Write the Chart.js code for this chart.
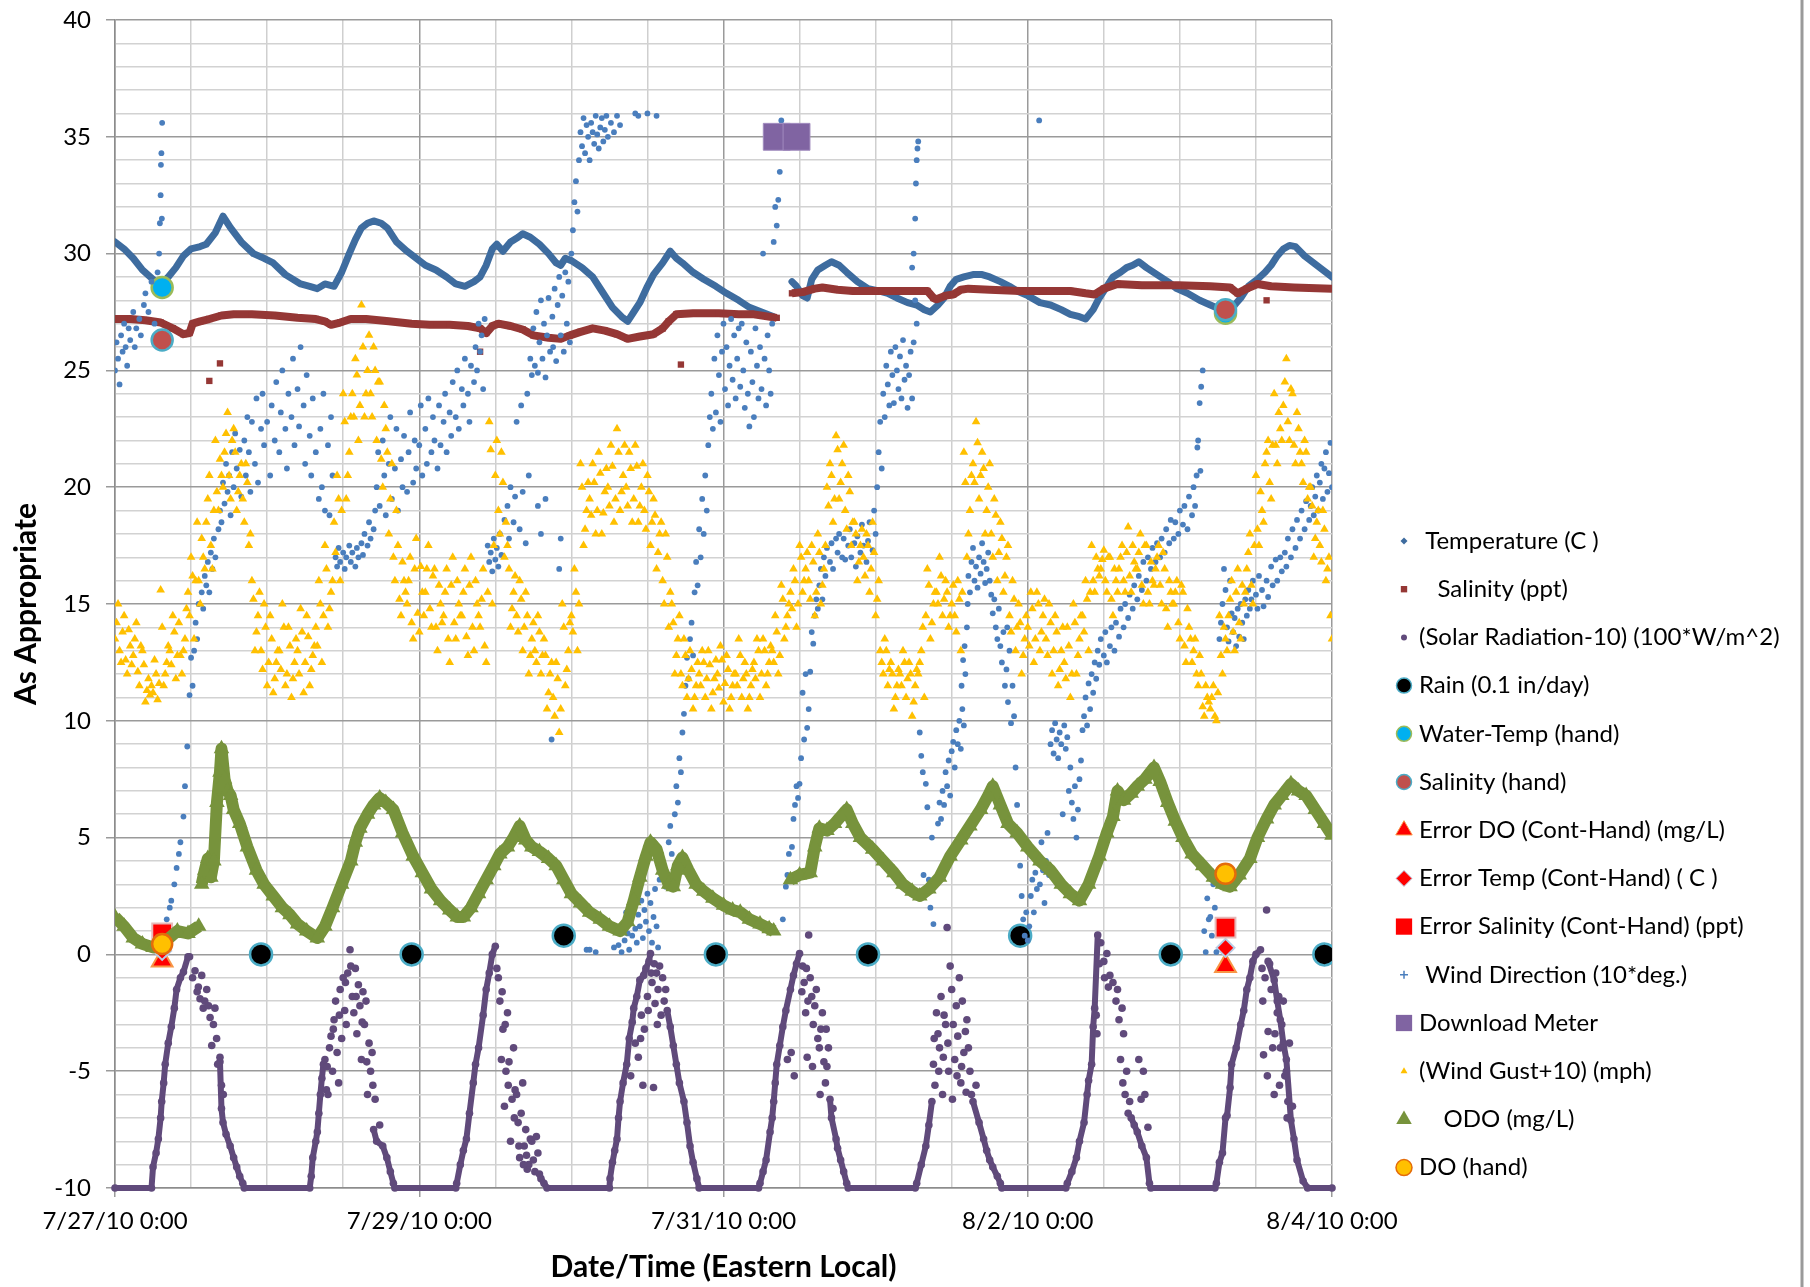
<!DOCTYPE html>
<html>
<head>
<meta charset="utf-8">
<script src="https://cdn.jsdelivr.net/npm/chart.js@4.4.1/dist/chart.umd.min.js"></script>
<style>
  html, body { margin: 0; padding: 0; background: #fff; }
  #wrap { width: 1810px; height: 1287px; }
</style>
</head>
<body>
<div id="wrap"><canvas id="chart" width="1810" height="1287"></canvas></div>
<script>
// x values are days since 7/27/10 0:00
const xTickLabels = ["7/27/10 0:00", "7/29/10 0:00", "7/31/10 0:00", "8/2/10 0:00", "8/4/10 0:00"];

const temperature = [
  [0.00,30.5],[0.06,30.2],[0.12,29.8],[0.18,29.3],[0.25,28.9],[0.29,28.6],[0.35,29.0],[0.40,29.4],[0.45,29.9],[0.50,30.2],
  [0.56,30.3],[0.60,30.4],[0.66,30.9],[0.71,31.6],[0.76,31.1],[0.83,30.5],[0.91,30.0],[0.98,29.8],[1.04,29.6],[1.12,29.1],
  [1.22,28.7],[1.28,28.6],[1.33,28.5],[1.38,28.7],[1.44,28.6],[1.49,29.2],[1.54,30.0],[1.58,30.6],[1.62,31.1],[1.66,31.3],
  [1.70,31.4],[1.75,31.3],[1.79,31.1],[1.85,30.5],[1.92,30.1],[1.98,29.8],[2.04,29.5],[2.11,29.3],[2.18,29.0],[2.24,28.7],
  [2.30,28.6],[2.36,28.8],[2.40,29.0],[2.44,29.5],[2.48,30.2],[2.51,30.4],[2.55,30.1],[2.60,30.5],[2.65,30.7],[2.68,30.85],
  [2.73,30.7],[2.79,30.4],[2.85,30.0],[2.90,29.6],[2.93,29.5],[2.96,29.8],[3.00,29.7],[3.07,29.4],[3.14,29.0],[3.20,28.4],
  [3.27,27.7],[3.33,27.3],[3.37,27.1],[3.41,27.5],[3.45,27.9],[3.50,28.6],[3.54,29.1],[3.60,29.6],[3.65,30.1],[3.69,29.8],
  [3.73,29.6],[3.80,29.2],[3.87,28.9],[3.95,28.6],[4.02,28.3],[4.10,28.0],[4.17,27.7],[4.25,27.5],[4.33,27.3],
  [4.40,null],
  [4.45,28.8],[4.48,28.6],[4.52,28.2],[4.55,28.1],[4.58,28.9],[4.62,29.3],[4.67,29.5],[4.71,29.65],[4.76,29.5],[4.81,29.2],
  [4.88,28.8],[4.95,28.5],[5.02,28.4],[5.08,28.3],[5.14,28.1],[5.21,27.9],[5.27,27.8],[5.32,27.6],[5.36,27.5],[5.41,27.8],
  [5.45,28.1],[5.49,28.6],[5.53,28.9],[5.58,29.0],[5.64,29.1],[5.70,29.1],[5.75,29.0],[5.82,28.8],[5.88,28.6],[5.93,28.4],
  [6.00,28.2],[6.08,27.9],[6.15,27.8],[6.22,27.6],[6.28,27.4],[6.34,27.3],[6.38,27.2],[6.43,27.6],[6.47,28.1],[6.52,28.6],
  [6.56,29.0],[6.61,29.2],[6.65,29.4],[6.69,29.5],[6.73,29.65],[6.78,29.4],[6.85,29.1],[6.92,28.8],[6.98,28.5],[7.05,28.3],
  [7.13,28.0],[7.20,27.8],[7.27,27.6],[7.32,27.4],[7.36,27.8],[7.40,28.1],[7.45,28.6],[7.51,28.9],[7.56,29.2],[7.60,29.5],
  [7.64,29.9],[7.68,30.2],[7.72,30.35],[7.76,30.3],[7.82,29.9],[7.88,29.6],[7.94,29.3],[8.00,29.0]
];

const salinity = [
  [0.00,27.2],[0.10,27.2],[0.20,27.15],[0.30,27.05],[0.38,26.8],[0.45,26.55],[0.49,26.6],[0.51,27.0],[0.56,27.1],[0.62,27.2],
  [0.70,27.35],[0.78,27.4],[0.90,27.4],[1.05,27.35],[1.20,27.25],[1.32,27.2],[1.38,27.1],[1.42,26.95],[1.48,27.05],[1.55,27.2],
  [1.65,27.2],[1.80,27.1],[1.95,27.0],[2.07,26.95],[2.20,26.95],[2.32,26.9],[2.40,26.8],[2.44,26.6],[2.48,26.9],[2.52,27.0],
  [2.60,26.9],[2.68,26.75],[2.75,26.5],[2.85,26.4],[2.93,26.35],[2.99,26.5],[3.06,26.65],[3.14,26.8],[3.22,26.7],[3.30,26.55],
  [3.37,26.35],[3.45,26.45],[3.54,26.55],[3.60,26.8],[3.64,27.1],[3.69,27.4],[3.80,27.45],[3.97,27.45],[4.10,27.4],[4.20,27.4],
  [4.35,27.25],
  [4.40,null],
  [4.45,28.3],[4.52,28.35],[4.60,28.5],[4.65,28.55],[4.75,28.45],[4.85,28.4],[5.00,28.4],[5.15,28.4],[5.34,28.4],[5.38,28.1],
  [5.40,28.05],[5.46,28.2],[5.51,28.25],[5.56,28.45],[5.61,28.5],[5.75,28.45],[5.95,28.4],[6.10,28.4],[6.28,28.4],[6.38,28.3],
  [6.44,28.25],[6.50,28.5],[6.59,28.7],[6.75,28.65],[6.99,28.65],[7.20,28.6],[7.33,28.55],[7.38,28.3],[7.44,28.5],[7.51,28.7],
  [7.60,28.6],[7.75,28.55],[8.00,28.5]
];
const salinityStray = [[0.62,24.55],[0.69,25.3],[2.40,25.8],[3.72,25.25],[7.57,28.0]];

// night floor plus rising / falling flanks of each day (joined)
const solarEdges = [
  [0.00,-10],[0.24,-10],[0.25,-9.1],[0.27,-8.5],[0.285,-7.9],[0.30,-7.0],[0.307,-6.3],[0.32,-5.5],[0.33,-4.7],[0.35,-3.8],
  [0.37,-3.1],[0.39,-2.3],[0.405,-1.5],[0.43,-1.0],[0.45,-0.75],[0.48,-0.1],[0.485,null],
  [0.69,-4.6],[0.70,-6.6],[0.71,-7.2],[0.73,-7.7],[0.757,-8.2],[0.78,-8.7],[0.80,-9.1],[0.82,-9.5],[0.84,-9.8],[0.85,-10],
  [1.28,-10],[1.29,-9.5],[1.30,-8.7],[1.32,-8.0],[1.33,-7.6],[1.34,-6.8],[1.35,-6.0],[1.36,-5.3],[1.37,-4.7],[1.375,null],
  [1.70,-7.5],[1.72,-8.0],[1.76,-8.2],[1.787,-8.7],[1.81,-9.3],[1.83,-9.8],[1.84,-10],
  [2.24,-10],[2.246,-9.8],[2.27,-9.0],[2.29,-8.4],[2.31,-7.9],[2.33,-6.8],[2.355,-5.5],[2.37,-4.7],[2.39,-4.0],[2.42,-2.6],
  [2.44,-1.5],[2.46,-0.8],[2.48,0.0],[2.50,0.35],[2.505,null],
  [2.79,-9.4],[2.80,-9.6],[2.82,-9.8],[2.84,-10],
  [3.25,-10],[3.254,-9.6],[3.27,-8.9],[3.285,-8.4],[3.30,-7.9],[3.31,-7.0],[3.32,-6.3],[3.34,-5.5],[3.364,-4.7],[3.38,-3.6],
  [3.40,-2.9],[3.41,-2.3],[3.43,-1.8],[3.45,-1.1],[3.475,-0.9],[3.49,-0.6],[3.51,-0.3],[3.52,0.04],[3.525,null],
  [3.63,-2.4],[3.65,-3.1],[3.67,-3.9],[3.69,-4.7],[3.71,-5.5],[3.74,-6.3],[3.76,-7.2],[3.78,-8.2],[3.80,-8.9],[3.825,-9.6],
  [3.84,-10],
  [4.23,-10],[4.24,-9.8],[4.26,-9.3],[4.28,-8.8],[4.306,-7.6],[4.32,-7.0],[4.33,-6.3],[4.34,-5.5],[4.35,-4.7],[4.37,-3.9],
  [4.39,-3.1],[4.41,-2.4],[4.44,-1.5],[4.46,-0.9],[4.48,-0.4],[4.50,0.04],[4.505,null],
  [4.70,-6.2],[4.71,-7.0],[4.74,-7.9],[4.75,-8.3],[4.77,-8.8],[4.79,-9.3],[4.81,-9.8],[4.82,-10],
  [5.26,-10],[5.27,-9.8],[5.30,-9.0],[5.33,-8.2],[5.35,-7.3],[5.37,-6.3],[5.375,null],
  [5.64,-6.3],[5.68,-7.2],[5.71,-7.9],[5.73,-8.4],[5.75,-8.8],[5.77,-9.1],[5.80,-9.5],[5.82,-9.8],[5.83,-10],
  [6.25,-10],[6.26,-9.8],[6.29,-9.3],[6.32,-8.7],[6.34,-8.0],[6.37,-7.2],[6.39,-6.0],[6.40,-5.4],[6.42,-4.7],[6.43,-3.1],
  [6.44,-2.3],[6.46,0.83],[6.465,null],
  [6.68,-7.0],[6.70,-7.3],[6.72,-7.6],[6.75,-8.2],[6.78,-8.7],[6.80,-9.8],[6.81,-10],
  [7.23,-10],[7.24,-9.8],[7.26,-8.9],[7.28,-8.5],[7.30,-7.0],[7.31,-6.9],[7.33,-5.7],[7.34,-4.7],[7.37,-4.0],[7.40,-3.0],
  [7.42,-2.4],[7.44,-1.5],[7.46,-1.0],[7.48,-0.3],[7.50,0.0],[7.53,0.2],[7.535,null],
  [7.58,-0.3],[7.62,-1.1],[7.64,-2.0],[7.66,-2.8],[7.68,-3.8],[7.70,-4.5],[7.73,-7.1],[7.75,-7.9],[7.77,-8.8],[7.81,-9.7],
  [7.84,-10],[8.00,-10]
];
// scattered daytime readings (cloudy spells)
const solarScatter = [
  [0.49,-0.1],[0.51,-1.0],[0.526,-0.7],[0.54,-1.6],[0.548,-1.4],[0.559,-1.9],[0.57,-0.9],[0.58,-2.3],[0.59,-2.0],[0.603,-1.5],
  [0.615,-2.2],[0.625,-2.7],[0.636,-3.9],[0.647,-3.0],[0.657,-2.3],[0.668,-3.6],[0.675,-4.7],[0.69,-4.4],[0.70,-5.6],[0.712,-6.0],
  [1.38,-4.5],[1.39,-5.8],[1.40,-6.0],[1.41,-4.0],[1.42,-3.5],[1.43,-5.0],[1.44,-2.8],[1.45,-2.0],[1.46,-4.2],[1.47,-5.5],
  [1.48,-1.5],[1.49,-3.6],[1.50,-1.0],[1.51,-2.4],[1.52,-3.0],[1.53,-0.8],[1.545,0.2],[1.55,-0.5],[1.56,-1.8],[1.57,-2.5],
  [1.58,-0.6],[1.59,-3.4],[1.60,-1.3],[1.61,-2.2],[1.62,-4.5],[1.63,-1.6],[1.64,-3.0],[1.65,-2.0],[1.66,-6.0],[1.67,-3.8],
  [1.68,-5.0],[1.69,-4.2],[1.71,-6.2],[1.74,-7.3],[1.395,-4.8],[1.435,-3.2],[1.475,-2.6],[1.515,-1.2],[1.585,-1.8],[1.625,-2.9],
  [1.655,-4.6],[1.695,-5.6],
  [2.51,-0.6],[2.52,-1.0],[2.53,-2.0],[2.54,-4.5],[2.55,-3.2],[2.56,-6.5],[2.57,-5.0],[2.58,-2.5],[2.59,-4.6],[2.60,-8.0],
  [2.61,-6.2],[2.62,-4.0],[2.63,-5.8],[2.64,-6.0],[2.65,-7.2],[2.66,-8.7],[2.67,-6.8],[2.68,-5.5],[2.69,-8.2],[2.70,-7.5],
  [2.71,-9.2],[2.72,-9.0],[2.73,-7.9],[2.74,-8.0],[2.75,-8.8],[2.76,-9.3],[2.77,-7.8],[2.78,-8.5],[2.545,-1.6],[2.565,-3.0],
  [2.585,-5.6],[2.625,-7.0],[2.655,-8.2],[2.685,-9.0],[2.705,-8.6],
  [3.39,-5.2],[3.42,-3.8],[3.44,-4.4],[3.46,-2.6],[3.47,-5.6],[3.48,-3.2],[3.50,-1.8],[3.53,-1.2],[3.54,-5.7],[3.545,-0.4],
  [3.55,-2.1],[3.56,-0.8],[3.57,-1.5],[3.58,-0.5],[3.59,-2.6],[3.60,-1.0],[3.61,-2.0],[3.62,-1.5],[3.455,-3.6],[3.505,-2.4],
  [3.565,-3.0],[3.525,-0.8],
  [4.42,-4.5],[4.445,-4.2],[4.465,-5.2],[4.52,-0.5],[4.53,-1.2],[4.54,-2.5],[4.55,-4.4],[4.555,-2.0],[4.56,0.83],[4.57,-1.0],
  [4.58,-1.8],[4.59,-3.0],[4.60,-2.2],[4.61,-1.5],[4.62,-3.6],[4.63,-4.0],[4.64,-3.2],[4.65,-2.5],[4.66,-4.6],[4.67,-5.5],
  [4.68,-4.8],[4.69,-4.0],[4.72,-6.6],[4.515,-1.6],[4.545,-0.6],[4.585,-4.8],[4.635,-6.0],[4.675,-3.2],
  [5.38,-4.7],[5.39,-5.6],[5.40,-2.5],[5.41,-3.4],[5.42,-4.0],[5.43,-1.8],[5.44,-6.0],[5.45,-2.6],[5.46,-3.0],[5.47,1.15],
  [5.48,-5.0],[5.49,-0.5],[5.50,-1.5],[5.51,-3.0],[5.52,-4.5],[5.53,-2.2],[5.54,-3.5],[5.55,-1.0],[5.56,-5.5],[5.57,-2.0],
  [5.58,-4.2],[5.59,-3.3],[5.60,-2.8],[5.61,-4.0],[5.62,-5.0],[5.63,-6.0],[5.66,-5.6],[5.385,-3.6],[5.415,-5.0],[5.445,-4.4],
  [5.475,-3.8],[5.505,-6.2],[5.535,-5.2],[5.565,-4.8],[5.595,-5.9],
  [6.45,-2.6],[6.47,-0.4],[6.48,0.5],[6.50,-0.3],[6.52,0.04],[6.53,-1.4],[6.54,-0.9],[6.56,-1.2],[6.58,-2.0],[6.59,-1.5],
  [6.60,-2.8],[6.61,-4.5],[6.62,-2.3],[6.63,-3.4],[6.64,-6.0],[6.65,-5.0],[6.66,-6.8],[6.67,-6.3],[6.73,-4.5],[6.76,-5.0],
  [6.79,-7.4],[6.455,-3.4],[6.505,-1.0],[6.625,-5.5],[6.745,-6.2],[6.77,-6.0],
  [7.54,-0.6],[7.55,-4.3],[7.56,-1.0],[7.57,1.9],[7.58,-3.3],[7.59,-0.4],[7.60,-1.5],[7.61,-4.0],[7.62,-6.0],[7.63,-0.8],
  [7.64,-2.5],[7.65,-1.8],[7.66,-4.0],[7.67,-3.0],[7.68,-2.0],[7.69,-5.2],[7.70,-5.0],[7.71,-6.3],[7.72,-3.8],[7.74,-6.5],
  [7.545,-2.0],[7.575,-5.2],[7.625,-3.4],[7.655,-5.6],[7.705,-7.0]
];

const rain = [[0.96,0],[1.95,0],[2.95,0.8],[3.95,0],[4.95,0],[5.95,0.8],[6.94,0],[7.95,0]];
const waterTempHand = [[0.31,28.55],[7.30,27.45]];
const salinityHand = [[0.31,26.3],[7.30,27.6]];
const errorDO = [[0.31,-0.26],[7.30,-0.5]];
const errorTemp = [[0.31,0.15],[7.30,0.28]];
const errorSalinity = [[0.31,0.9],[7.30,1.15]];
const downloadMeter = [[4.35,35],[4.48,35]];
const doHand = [[0.31,0.44],[7.30,3.45]];

const windDirection = [
  [0.00,25.0],[0.01,26.2],[0.02,25.5],[0.03,24.4],[0.04,26.5],[0.05,25.8],[0.06,27.0],[0.07,26.0],[0.08,25.2],[0.09,26.8],
  [0.10,26.3],[0.12,27.5],[0.13,26.0],[0.14,26.8],[0.16,27.2],[0.17,26.5],[0.19,27.8],[0.20,28.3],[0.22,27.5],[0.24,28.8],
  [0.26,27.0],[0.28,29.2],[0.29,30.0],[0.295,31.3],[0.30,32.5],[0.302,33.8],[0.305,34.3],[0.31,35.6],[0.308,31.5],
  [0.34,1.5],[0.36,2.0],[0.37,2.3],[0.39,3.0],[0.405,3.7],[0.42,4.3],[0.43,4.8],[0.45,5.9],[0.46,7.2],[0.475,8.9],
  [0.49,11.1],[0.50,12.7],[0.51,11.5],[0.52,13.0],[0.53,14.2],[0.54,13.5],[0.55,15.0],
  [0.57,15.5],[0.58,14.8],[0.59,16.2],[0.60,15.8],[0.61,16.8],[0.62,15.5],[0.63,17.2],[0.64,16.5],[0.65,17.8],[0.66,17.0],
  [0.68,18.2],[0.69,19.0],[0.70,18.5],[0.71,20.2],[0.72,19.3],[0.73,21.0],[0.74,19.8],[0.75,20.5],[0.76,18.8],[0.77,21.5],
  [0.78,20.0],[0.79,22.3],[0.80,20.8],[0.82,21.6],[0.83,19.6],
  [0.85,22.0],[0.86,20.5],[0.87,23.0],[0.88,21.5],[0.89,19.8],[0.90,22.8],[0.92,21.0],[0.93,23.8],[0.94,20.2],[0.96,22.5],
  [0.97,24.0],[0.98,21.8],[1.00,22.8],[1.02,20.5],[1.03,23.5],
  [1.05,22.0],[1.06,24.5],[1.08,21.5],[1.09,23.2],[1.10,25.0],[1.12,22.5],[1.13,20.8],[1.14,24.0],[1.16,23.0],[1.17,25.5],
  [1.18,21.8],[1.20,24.2],[1.21,22.6],[1.22,26.0],[1.24,23.5],[1.25,21.0],[1.26,24.8],[1.28,22.2],[1.29,20.5],[1.30,23.8],
  [1.32,21.5],[1.34,19.5],[1.35,22.5],[1.36,20.0],[1.37,24.0],[1.38,19.0],[1.40,21.8],[1.41,18.8],[1.42,23.0],[1.43,20.5],
  [1.45,17.0],[1.46,16.6],[1.47,17.4],[1.48,16.8],[1.50,17.2],[1.51,16.5],[1.52,17.0],[1.54,17.5],[1.55,16.8],[1.56,17.2],
  [1.58,16.6],[1.59,17.4],[1.60,17.0],[1.62,17.6],[1.63,17.1],[1.64,18.0],[1.66,17.5],[1.67,18.5],[1.68,17.8],[1.70,18.2],
  [1.71,19.0],
  [1.72,20.0],[1.73,21.5],[1.74,19.2],[1.76,22.0],[1.77,20.5],[1.78,18.8],[1.80,21.0],[1.81,23.0],[1.82,19.5],[1.84,20.8],
  [1.85,22.5],[1.86,19.0],[1.88,21.2],[1.89,20.0],[1.90,22.2],[1.92,19.8],[1.93,21.5],[1.94,23.2],[1.96,20.2],[1.97,22.0],
  [1.98,20.8],[2.00,21.8],[2.01,23.5],[2.02,20.5],[2.04,22.5],[2.05,21.0],[2.06,23.8],
  [2.08,21.5],[2.09,23.0],[2.10,22.0],[2.12,20.8],[2.13,23.5],[2.14,21.8],[2.16,22.8],[2.17,24.0],[2.18,21.5],[2.20,23.2],
  [2.21,22.2],[2.22,24.5],[2.24,23.0],[2.25,25.0],[2.26,22.5],[2.28,24.2],[2.29,23.5],[2.30,25.5],[2.32,24.0],[2.33,22.8],
  [2.34,25.2],[2.36,24.5],[2.37,26.0],[2.38,25.0],[2.39,27.0],[2.40,25.8],[2.41,26.5],[2.42,24.2],[2.43,27.2],
  [2.45,17.5],[2.46,16.8],[2.47,17.2],[2.48,16.4],[2.49,17.8],[2.50,16.9],[2.51,17.4],[2.52,16.6],[2.53,18.0],[2.54,17.1],
  [2.56,18.6],[2.58,19.2],[2.59,17.8],[2.60,20.0],[2.62,18.5],[2.63,19.6],[2.64,22.8],[2.66,18.2],[2.67,23.5],[2.68,19.8],
  [2.70,17.6],[2.71,24.0],[2.72,20.5],
  [2.73,25.5],[2.74,24.8],[2.75,26.8],[2.76,25.2],[2.77,27.5],[2.78,24.9],[2.79,26.2],[2.80,28.0],[2.81,25.5],[2.82,27.0],
  [2.83,24.7],[2.84,26.5],[2.85,28.1],[2.86,25.8],[2.87,9.2],[2.875,27.3],[2.78,19.2],[2.80,18.0],[2.83,19.5],[2.92,16.5],
  [2.93,17.8],
  [2.88,26.0],[2.89,28.5],[2.90,25.4],[2.91,27.8],[2.92,29.0],[2.93,26.5],[2.94,28.2],[2.95,25.8],[2.96,29.2],[2.97,27.0],
  [2.98,28.8],[2.99,26.2],[3.00,30.0],[3.01,31.0],[3.02,32.2],[3.03,33.1],[3.04,31.8],[3.05,34.0],
  [3.06,35.2],[3.07,34.6],[3.08,35.8],[3.09,34.3],[3.10,35.5],[3.11,35.0],[3.12,34.0],[3.13,35.6],[3.14,35.2],[3.15,34.7],
  [3.16,35.9],[3.17,35.1],[3.18,34.5],[3.19,35.4],[3.20,35.8],[3.21,34.8],[3.22,35.3],[3.23,35.9],[3.24,35.0],[3.26,35.6],
  [3.28,35.2],[3.30,35.9],[3.32,35.5],[3.42,36.0],[3.44,35.9],[3.50,36.0],[3.56,35.9],
  [3.10,0.2],[3.12,0.2],[3.16,0.1],
  [3.28,0.3],[3.30,1.0],[3.31,0.4],[3.33,0.1],[3.34,1.3],[3.35,0.6],[3.36,1.8],[3.37,0.9],[3.38,0.2],[3.39,1.5],
  [3.40,0.8],[3.41,2.0],[3.42,1.1],[3.43,0.5],[3.44,1.7],[3.45,1.2],[3.46,2.3],[3.47,0.7],[3.48,1.9],[3.49,1.4],
  [3.50,2.6],[3.51,1.0],[3.52,2.2],[3.53,0.5],[3.54,1.6],[3.55,2.8],[3.56,1.2],[3.57,0.3],
  [3.58,3.2],[3.60,4.0],[3.62,2.9],[3.64,4.8],[3.65,5.5],[3.66,4.3],[3.68,6.0],[3.69,7.2],[3.70,6.5],[3.71,8.4],
  [3.72,7.8],[3.73,9.5],[3.74,10.3],[3.75,11.5],[3.76,12.7],[3.77,11.8],[3.78,13.5],[3.79,14.2],[3.80,12.8],
  [3.81,15.5],[3.82,16.8],[3.83,15.8],[3.84,18.2],[3.85,17.0],[3.86,19.5],[3.87,18.0],[3.88,20.5],[3.89,19.0],[3.90,21.8],
  [3.91,23.0],[3.92,24.0],[3.93,22.5],[3.94,25.5],[3.95,23.2],[3.96,26.5],[3.97,24.8],[3.98,22.8],[3.99,25.8],[4.00,27.0],
  [4.01,24.2],[4.02,26.0],[4.03,23.5],[4.04,25.2],[4.05,27.2],[4.06,24.6],[4.07,26.5],[4.08,23.8],[4.09,25.5],[4.10,26.8],
  [4.11,24.3],[4.12,27.0],[4.13,25.0],[4.14,23.4],[4.15,26.2],[4.16,24.0],[4.17,22.6],[4.18,25.8],[4.19,24.5],[4.20,23.0],
  [4.21,26.8],[4.22,25.2],[4.23,23.8],[4.24,26.0],[4.25,24.2],[4.26,30.0],[4.27,25.5],[4.28,23.5],[4.29,26.5],[4.30,25.0],
  [4.31,24.0],[4.32,27.0],[4.33,30.5],[4.34,32.0],[4.35,31.2],[4.36,32.3],[4.37,33.5],[4.38,35.7],
  [4.39,1.5],[4.41,2.9],[4.42,3.4],[4.43,4.3],[4.45,4.6],[4.46,5.8],[4.47,6.4],[4.48,7.2],[4.49,6.7],[4.50,7.3],
  [4.51,8.4],[4.53,9.2],[4.55,9.7],[4.56,10.5],[4.57,12.1],[4.59,13.3],[4.52,11.2],[4.54,12.0],[4.58,13.8],[4.60,14.5],
  [4.61,15.2],[4.62,14.8],[4.63,15.8],[4.64,16.5],[4.65,15.2],[4.66,17.0],[4.67,16.2],[4.68,17.4],[4.70,16.8],[4.71,17.6],
  [4.72,16.5],[4.74,17.8],[4.75,17.2],[4.76,18.0],[4.78,17.0],[4.79,17.8],[4.80,16.9],[4.82,17.5],[4.83,18.2],[4.84,17.0],
  [4.86,17.6],[4.87,16.6],[4.88,17.9],[4.90,17.2],[4.91,18.4],[4.92,17.5],[4.94,16.8],[4.95,17.7],[4.96,18.5],[4.98,17.3],
  [4.99,19.0],[5.00,18.0],[5.01,20.0],
  [5.02,21.5],[5.03,22.8],[5.04,20.8],[5.05,24.0],[5.06,23.0],[5.07,25.2],[5.08,24.4],[5.09,23.5],[5.10,25.8],[5.11,24.8],
  [5.12,23.6],[5.13,26.0],[5.14,25.0],[5.15,24.2],[5.16,25.6],[5.17,23.8],[5.18,26.3],[5.19,24.6],[5.20,25.2],[5.21,23.4],
  [5.22,24.8],[5.23,25.8],[5.24,23.8],[5.25,26.2],[5.24,29.4],[5.25,30.0],[5.26,31.5],[5.265,33.0],[5.27,34.0],[5.275,34.5],
  [5.28,34.8],[5.26,28.0],[5.27,27.0],
  [5.29,9.5],[5.30,8.5],[5.31,7.8],[5.315,3.4],[5.33,7.3],[5.34,6.3],[5.35,3.2],[5.36,2.0],[5.38,1.3],[5.37,5.0],
  [5.41,5.6],[5.42,6.5],[5.43,5.8],[5.44,7.0],[5.45,6.4],[5.46,7.8],[5.47,7.2],[5.48,8.3],[5.49,6.8],[5.50,8.7],
  [5.51,9.1],[5.52,8.0],[5.53,9.6],[5.54,9.0],[5.55,10.0],[5.56,8.8],[5.57,10.5],[5.58,9.8],[5.565,11.5],[5.575,12.6],
  [5.585,13.2],[5.59,12.0],[5.60,14.0],
  [5.605,15.0],[5.61,16.2],[5.62,15.5],[5.63,16.8],[5.64,17.4],[5.65,16.0],[5.66,16.6],[5.67,15.7],[5.68,17.0],[5.69,16.3],
  [5.70,17.6],[5.71,16.8],[5.72,15.9],[5.73,16.5],[5.74,17.2],[5.75,16.0],[5.76,15.4],[5.77,14.6],[5.78,15.2],[5.79,14.0],
  [5.80,13.5],[5.81,14.8],[5.82,13.2],[5.83,12.5],[5.84,13.8],[5.85,11.5],[5.86,12.2],[5.87,10.8],[5.865,14.0],[5.88,13.0],
  [5.89,9.9],[5.90,11.5],[5.91,10.2],
  [5.92,8.0],[5.93,6.4],[5.94,5.0],[5.95,3.8],[5.96,2.5],[5.97,1.5],[5.98,0.8],[5.99,1.8],[6.00,0.6],[6.01,1.2],
  [6.02,2.5],[6.03,3.2],[6.04,1.8],[6.05,3.5],[6.06,2.8],[6.07,4.2],[6.075,35.7],[6.08,3.0],[6.09,4.8],[6.10,3.6],
  [6.11,2.2],[6.12,4.0],[6.13,5.2],[6.14,3.4],
  [6.15,9.0],[6.16,9.6],[6.17,8.6],[6.18,9.9],[6.19,9.2],[6.20,8.4],[6.21,9.5],[6.22,9.0],[6.23,6.0],[6.24,9.8],
  [6.25,8.8],[6.26,9.3],[6.27,7.0],[6.28,8.0],[6.29,6.5],[6.30,5.8],[6.31,7.2],[6.32,5.0],[6.33,6.2],[6.34,7.5],
  [6.35,8.3],[6.36,9.6],[6.37,10.2],[6.38,11.0],[6.39,9.8],[6.40,11.6],[6.41,10.5],[6.42,12.0],[6.43,11.2],[6.44,12.5],
  [6.45,11.8],[6.46,13.0],[6.47,12.4],[6.48,13.5],[6.50,12.8],[6.51,13.8],
  [6.52,12.5],[6.54,13.2],[6.55,14.0],[6.57,13.0],[6.58,14.2],[6.60,13.6],[6.61,14.8],[6.63,14.0],[6.64,15.0],[6.66,14.4],
  [6.67,15.4],[6.69,14.8],[6.70,15.8],[6.72,15.2],[6.73,16.2],[6.75,15.6],[6.76,16.8],[6.78,16.0],[6.79,17.0],[6.81,16.5],
  [6.82,17.4],[6.84,16.8],[6.85,17.6],[6.87,17.0],[6.88,17.8],[6.90,17.2],[6.91,18.2],[6.93,17.6],[6.94,18.6],[6.96,17.8],
  [6.97,18.5],[6.99,18.0],[7.00,19.0],[7.02,18.4],[7.03,19.2],[7.05,18.2],[7.06,19.6],[7.08,18.8],[7.09,20.0],[7.10,19.2],
  [7.11,20.5],[7.115,21.7],[7.12,22.0],[7.13,23.6],[7.135,20.7],[7.14,24.3],[7.15,25.0],
  [7.16,1.0],[7.17,0.1],[7.18,2.4],[7.19,1.5],[7.20,1.6],[7.21,0.8],[7.22,3.0],[7.23,2.0],[7.24,0.1],
  [7.26,13.5],[7.27,14.2],[7.28,15.0],[7.29,16.5],[7.30,15.6],[7.31,14.0],[7.32,13.4],[7.33,16.0],[7.34,14.6],[7.35,13.8],
  [7.36,14.4],[7.37,13.2],[7.38,14.8],[7.39,13.6],[7.40,15.0],[7.41,14.2],[7.42,13.5],[7.43,15.2],[7.44,14.5],[7.45,15.6],
  [7.46,14.8],[7.47,15.2],[7.48,16.0],[7.50,15.4],[7.51,14.8],[7.52,16.2],[7.54,15.6],[7.55,14.9],[7.57,16.0],[7.58,15.3],
  [7.60,16.6],[7.61,15.8],[7.63,16.9],[7.64,16.0],[7.66,17.0],[7.67,16.4],[7.69,17.2],[7.70,16.6],[7.71,17.8],[7.73,17.0],
  [7.74,18.2],[7.76,17.4],[7.77,18.6],[7.79,17.8],[7.80,19.0],[7.82,18.2],[7.83,19.4],[7.85,18.6],[7.86,19.2],[7.87,20.0],
  [7.88,18.8],[7.89,19.6],[7.90,20.5],[7.91,19.0],[7.92,20.2],[7.93,21.0],[7.94,19.5],[7.95,20.8],[7.96,21.5],[7.97,19.8],
  [7.98,20.6],[7.99,21.9],[8.00,20.0]
];

// wind gust + 10: readings every 0.02 day from 7/27 0:00, and the interleaved readings 0.01 day later
const gustStep = 0.02;
const windGust = [
  13.5,15.0,12.5, 14.5,12.0,13.2, 12.8,14.2,11.5, 13.0,10.8,11.8, 11.5,12.6,10.9, 15.6,11.5,12.5,
  13.0,14.5,11.8, 14.2,12.0,13.5, 15.5,17.0,13.5, 18.5,15.0,17.0, 18.5,20.5,16.5, 22.0,19.0,20.5,
  21.5,23.2,19.5, 22.5,19.0,20.5, 19.5,21.0,17.5, 16.0,13.0,14.5, 13.0,15.0,11.5, 14.5,11.2,12.5,
  13.0,15.0,11.5, 14.0,11.0,12.5, 13.0,14.8,11.2, 14.5,11.5,12.8, 14.0,16.0,12.5, 17.5,14.0,15.5,
  18.5,20.5,16.0, 24.0,19.5,21.5, 24.0,25.5,22.0, 27.8,23.0,25.0, 24.0,26.0,22.0, 24.5,20.0,22.5,
  18.0,21.0,16.0, 17.5,14.5,16.0, 15.0,17.0,13.5, 17.8,13.8,15.5, 15.5,17.5,14.0, 16.5,13.0,15.0,
  14.5,16.5,12.5, 17.0,13.5,15.0, 14.5,16.5,12.8, 17.0,13.0,15.0, 14.0,16.5,12.5, 22.8,15.0,20.5,
  19.0,21.5,17.0, 17.5,14.0,15.5, 14.5,16.0,13.0, 15.5,12.0,13.5, 13.0,14.5,12.0, 13.5,10.5,12.0,
  11.0,12.5,9.5, 15.0,11.5,13.0, 14.5,16.5,13.0, 21.0,17.5,19.0, 19.5,21.0,18.0, 21.5,18.0,19.8,
  20.0,21.8,18.5, 22.5,19.0,20.5, 20.0,21.5,18.5, 21.8,18.5,20.0, 19.0,20.5,17.5, 19.5,16.5,18.0,
  16.0,18.0,14.0, 15.0,12.0,13.5, 12.0,13.5,11.0, 13.0,10.5,11.5, 12.0,13.0,11.0, 13.0,10.5,11.8,
  12.0,13.2,10.8, 12.8,10.5,11.5, 12.0,13.5,11.0, 12.5,10.5,11.5, 12.5,13.5,11.0, 13.5,11.5,12.5,
  13.0,14.5,12.0, 15.8,13.5,14.5, 15.5,16.5,14.0, 17.5,15.5,16.5, 16.0,17.5,14.5, 18.0,15.0,16.5,
  20.0,21.0,18.5, 22.2,19.5,21.0, 19.0,20.5,17.5, 18.5,16.0,17.5, 17.0,18.0,15.5, 18.5,14.5,16.0,
  12.5,13.5,11.5, 12.5,10.5,11.5, 12.0,13.0,11.0, 12.5,10.2,11.5, 12.0,13.0,11.0, 16.5,13.5,15.0,
  15.5,17.0,14.5, 16.0,14.0,15.0, 14.5,16.0,13.0, 21.5,17.0,19.0, 21.0,22.8,19.5, 21.5,18.0,20.0,
  18.0,19.5,16.0, 18.5,15.5,17.0, 14.5,16.0,13.0, 15.0,12.0,13.5, 14.0,15.5,12.5, 15.5,13.0,14.5,
  13.5,15.0,12.0, 14.5,11.5,13.0, 12.5,14.0,11.0, 15.0,12.0,13.5, 14.5,16.0,13.0, 17.5,15.5,16.5,
  16.5,17.3,15.5, 17.0,14.5,16.0, 16.5,17.5,15.5, 18.3,15.5,16.8, 16.5,18.0,15.0, 17.5,15.0,16.0,
  16.5,17.5,15.0, 16.5,14.0,15.5, 15.0,16.0,13.5, 15.5,12.5,14.0, 12.5,13.5,11.5, 12.0,10.2,11.0,
  10.5,11.5,10.0, 14.5,12.0,13.5, 14.5,16.0,13.0, 16.5,13.5,15.0, 16.5,18.0,15.0, 20.5,17.5,19.0,
  21.0,22.0,19.5, 24.0,21.0,22.5, 23.5,25.5,22.0, 24.0,21.0,22.5, 21.0,22.0,19.5, 20.0,17.0,18.5,
  17.5,19.0,16.0, 17.0,13.5
];
const windGustLate = [
  14.2,13.0,13.8, 12.6,13.9,12.4, 13.5,12.1,13.2, 12.4,11.3,11.1, 11.2,12.0,11.6, 14.0,12.0,13.2,
  12.4,13.8,12.8, 12.8,13.0,14.8, 14.5,16.2,16.0, 16.0,17.8,16.5, 19.5,17.5,19.0, 19.8,21.2,20.0,
  22.3,20.5,22.0, 21.5,19.8,21.0, 18.5,20.2,18.0, 15.2,13.8,15.5, 12.2,14.0,12.5, 13.5,11.8,13.0,
  12.2,14.0,12.0, 13.2,11.8,13.5, 12.0,13.8,12.5, 13.6,12.2,13.2, 13.2,15.0,14.5, 16.5,14.8,16.0,
  17.2,19.5,19.0, 22.8,20.5,23.0, 23.0,24.8,23.5, 26.0,24.0,26.5, 23.0,25.0,24.5, 21.2,23.5,21.5,
  19.5,17.0,19.0, 15.2,16.8,15.5, 16.0,14.2,16.5, 14.6,16.6,14.5, 16.5,14.8,16.2, 14.0,15.8,14.2,
  15.5,13.5,15.8, 14.2,16.0,14.5, 15.5,13.6,15.8, 14.0,16.0,14.5, 15.2,13.2,15.5, 21.6,17.5,22.0,
  18.0,20.2,18.5, 16.5,14.8,16.2, 13.8,15.2,14.0, 14.5,12.8,14.2, 12.5,13.8,12.8, 12.8,11.2,12.5,
  10.2,11.8,10.5, 14.0,12.2,14.2, 13.8,15.5,15.0, 20.0,18.2,20.2, 18.8,20.2,19.0, 20.6,18.9,20.8,
  19.2,20.9,19.5, 21.5,19.8,21.8, 19.2,20.8,19.5, 20.9,19.2,21.0, 18.2,19.8,18.5, 18.8,17.2,18.5,
  15.0,17.0,15.5, 14.2,12.8,14.5, 11.5,12.8,11.8, 12.2,11.0,12.5, 11.5,12.5,11.8, 12.4,11.2,12.6,
  11.4,12.6,11.6, 12.2,11.0,12.0, 11.5,12.8,11.8, 12.0,11.0,12.2, 11.8,13.0,12.0, 13.0,12.0,13.2,
  12.5,13.8,12.8, 15.2,14.0,15.0, 14.8,16.0,15.0, 17.0,16.0,17.2, 15.2,16.8,15.5, 17.2,15.8,17.5,
  19.2,20.5,19.5, 21.6,20.2,21.8, 18.2,19.8,18.5, 18.0,16.8,18.2, 16.2,17.5,16.5, 17.2,15.2,13.0,
  12.0,13.0,12.2, 12.0,11.0,12.2, 11.5,12.5,11.8, 12.0,10.8,12.2, 12.5,14.0,14.5, 15.8,14.2,15.5,
  15.0,16.2,15.2, 15.5,14.5,15.8, 13.8,15.2,15.5, 20.2,18.0,20.5, 20.2,21.9,20.5, 20.8,19.0,21.0,
  17.0,18.8,17.2, 17.8,16.2,17.5, 13.8,15.2,14.0, 14.2,12.8,14.5, 13.2,14.8,13.5, 15.0,13.8,15.2,
  12.8,14.2,13.0, 13.8,12.2,14.0, 11.8,13.2,12.0, 14.2,12.8,14.5, 13.8,15.2,15.5, 16.0,17.0,16.2,
  16.9,16.0,17.0, 15.2,16.5,15.5, 17.0,16.0,17.2, 16.2,17.5,16.5, 17.2,15.8,17.5, 15.5,16.8,15.8,
  17.0,15.8,17.2, 14.8,16.0,15.0, 15.5,14.2,15.8, 13.2,14.8,13.5, 13.0,12.0,12.8, 10.6,11.5,10.8,
  11.0,10.2,11.2, 12.8,14.0,13.0, 15.2,13.8,15.5, 14.2,15.8,15.5, 17.2,15.8,17.5, 18.2,19.8,18.5,
  21.5,20.2,21.8, 21.8,23.2,22.0, 24.5,22.8,24.2, 21.8,23.2,21.5, 20.2,21.5,20.0, 19.2,17.8,19.0,
  16.8,18.2,16.5, 14.5
];

const odo = [
  [0.00,1.6],[0.06,1.2],[0.12,0.7],[0.18,0.45],[0.25,0.3],[0.32,0.5],[0.41,1.0],[0.48,0.9],[0.55,1.2],
  [0.56,null],
  [0.57,3.0],[0.59,3.6],[0.61,4.1],[0.63,3.3],[0.65,4.0],[0.67,6.5],[0.69,7.8],[0.70,8.8],[0.72,7.5],[0.74,7.0],
  [0.76,6.8],[0.78,6.2],[0.82,5.6],[0.87,4.6],[0.93,3.6],[0.98,3.0],[1.04,2.5],[1.10,2.0],[1.15,1.7],[1.20,1.3],
  [1.26,1.0],[1.33,0.7],[1.38,1.2],[1.43,2.0],[1.49,3.0],[1.55,4.0],[1.58,4.8],[1.61,5.4],[1.66,6.0],[1.70,6.4],
  [1.74,6.7],[1.78,6.5],[1.83,6.2],[1.89,5.2],[1.96,4.2],[2.02,3.5],[2.08,2.8],[2.14,2.3],[2.20,1.9],[2.25,1.6],
  [2.29,1.6],[2.34,2.0],[2.39,2.6],[2.44,3.2],[2.49,3.8],[2.53,4.3],[2.58,4.6],[2.62,5.0],[2.66,5.5],[2.70,4.9],
  [2.74,4.6],[2.79,4.4],[2.85,4.1],[2.90,3.8],[2.95,3.2],[3.00,2.6],[3.06,2.2],[3.12,1.8],[3.19,1.5],[3.25,1.2],
  [3.32,1.0],[3.37,1.4],[3.41,2.3],[3.45,3.3],[3.49,4.2],[3.52,4.8],[3.56,4.5],[3.60,3.6],[3.64,3.0],[3.67,2.9],
  [3.70,3.8],[3.73,4.15],[3.77,3.6],[3.82,3.0],[3.87,2.7],[3.93,2.4],[4.00,2.1],[4.06,1.9],[4.11,1.8],[4.17,1.5],
  [4.24,1.3],[4.30,1.1],[4.33,1.0],
  [4.38,null],
  [4.44,3.2],[4.50,3.4],[4.57,3.5],[4.60,4.6],[4.63,5.4],[4.68,5.3],[4.73,5.6],[4.77,5.9],[4.81,6.2],[4.85,5.6],
  [4.90,5.0],[4.98,4.5],[5.05,4.0],[5.12,3.5],[5.18,3.0],[5.24,2.7],[5.29,2.5],[5.35,2.8],[5.42,3.3],[5.49,4.2],
  [5.56,4.9],[5.62,5.5],[5.69,6.2],[5.74,6.8],[5.77,7.2],[5.82,6.4],[5.87,5.6],[5.93,5.2],[6.00,4.6],[6.08,4.0],
  [6.15,3.6],[6.22,3.0],[6.28,2.6],[6.34,2.3],[6.40,3.0],[6.47,4.2],[6.52,5.2],[6.56,5.9],[6.59,7.0],[6.63,6.6],
  [6.68,6.9],[6.72,7.2],[6.77,7.5],[6.83,8.0],[6.87,7.4],[6.92,6.5],[6.97,5.7],[7.02,5.0],[7.08,4.3],[7.15,3.8],
  [7.22,3.3],[7.28,3.0],[7.33,2.9],[7.39,3.4],[7.46,4.1],[7.51,5.0],[7.57,5.8],[7.62,6.4],[7.67,6.8],[7.73,7.3],
  [7.78,7.0],[7.83,6.8],[7.89,6.2],[7.95,5.6],[8.00,5.1]
];

const pts = (arr) => arr.map(([x, y]) => ({ x, y }));
// loose points are kept off the joining line by a gap before each one
const loose = (arr) => arr.flatMap(([x, y]) => [{ x, y: null }, { x, y }]);

const salinityPoints = pts(salinity).concat(loose(salinityStray));
const solarPoints = pts(solarEdges).concat(loose(solarScatter));
const gustPoints = windGust.map((y, i) => ({ x: +(i * gustStep).toFixed(2), y }))
  .concat(windGustLate.map((y, i) => ({ x: +(0.01 + i * gustStep).toFixed(2), y })));

const FONT = "Lato";
const SOLAR = "#604A7B";

function marker(style, radius, fill, border, borderWidth) {
  return { style, radius, fill, border: border || fill, borderWidth: borderWidth || 0 };
}

const datasets = [
  {
    label: " Temperature (C )", data: pts(temperature), showLine: true,
    borderColor: "#3E6C9F", borderWidth: 7, borderJoinStyle: "round", borderCapStyle: "round",
    pointRadius: 0, legendMarker: marker("rectRot", 3.5, "#3E6C9F"),
  },
  {
    label: "   Salinity (ppt)", data: salinityPoints, showLine: true,
    borderColor: "#953735", borderWidth: 8, borderJoinStyle: "round",
    pointStyle: "rect", pointRadius: 4.5, pointBackgroundColor: "#953735", pointBorderWidth: 0,
    legendMarker: marker("rect", 4.5, "#953735"),
  },
  {
    label: "(Solar Radiation-10) (100*W/m^2)", data: solarPoints, showLine: true, clip: false,
    borderColor: SOLAR, borderWidth: 6, borderJoinStyle: "round",
    pointStyle: "circle", pointRadius: 3.8, pointBackgroundColor: SOLAR, pointBorderWidth: 0,
    legendMarker: marker("circle", 3, SOLAR),
  },
  {
    label: "Rain (0.1 in/day)", data: pts(rain),
    pointStyle: "circle", pointRadius: 11, pointBackgroundColor: "#000000",
    pointBorderColor: "#4BACC6", pointBorderWidth: 2.5,
    legendMarker: marker("circle", 7.5, "#000000", "#4BACC6", 1.5),
  },
  {
    label: "Water-Temp (hand)", data: pts(waterTempHand),
    pointStyle: "circle", pointRadius: 10.5, pointBackgroundColor: "#00B0F0",
    pointBorderColor: "#9BBB59", pointBorderWidth: 2.5,
    legendMarker: marker("circle", 7.5, "#00B0F0", "#9BBB59", 1.5),
  },
  {
    label: "Salinity (hand)", data: pts(salinityHand),
    pointStyle: "circle", pointRadius: 10.5, pointBackgroundColor: "#C0504D",
    pointBorderColor: "#4BACC6", pointBorderWidth: 2.5,
    legendMarker: marker("circle", 7.5, "#C0504D", "#4BACC6", 1.5),
  },
  {
    label: "Error DO (Cont-Hand) (mg/L)", data: pts(errorDO),
    pointStyle: "triangle", pointRadius: 12, pointBackgroundColor: "#FF0000",
    pointBorderColor: "#F79646", pointBorderWidth: 2,
    legendMarker: marker("triangle", 9.5, "#FF0000", "#F79646", 1),
  },
  {
    label: "Error Temp (Cont-Hand) ( C )", data: pts(errorTemp),
    pointStyle: "rectRot", pointRadius: 9, pointBackgroundColor: "#FF0000",
    pointBorderColor: "#B9CDE5", pointBorderWidth: 2,
    legendMarker: marker("rectRot", 8, "#FF0000", "#B9CDE5", 1),
  },
  {
    label: "Error Salinity (Cont-Hand) (ppt)", data: pts(errorSalinity),
    pointStyle: "rect", pointRadius: 14, pointBackgroundColor: "#FF0000",
    pointBorderColor: "#E6B9B8", pointBorderWidth: 2,
    legendMarker: marker("rect", 11.5, "#FF0000"),
  },
  {
    label: " Wind Direction (10*deg.)", data: pts(windDirection),
    pointStyle: "circle", pointRadius: 2.9, pointBackgroundColor: "#4A7EBD", pointBorderWidth: 0,
    legendMarker: marker("cross", 4, "#4A7EBD", "#4A7EBD", 1.5),
  },
  {
    label: "Download Meter", data: pts(downloadMeter),
    pointStyle: "rect", pointRadius: 19, pointBackgroundColor: "#8064A2",
    pointBorderColor: "#A18BBE", pointBorderWidth: 1,
    legendMarker: marker("rect", 11.5, "#8064A2"),
  },
  {
    label: "(Wind Gust+10) (mph)", data: gustPoints,
    pointStyle: "triangle", pointRadius: 5, pointBackgroundColor: "#FFC000", pointBorderWidth: 0,
    legendMarker: marker("triangle", 4, "#FFC000"),
  },
  {
    label: "    ODO (mg/L)", data: pts(odo), showLine: true,
    borderColor: "#77933C", borderWidth: 12, borderJoinStyle: "round",
    pointStyle: "triangle", pointRadius: 9, pointBackgroundColor: "#77933C", pointBorderWidth: 0,
    legendMarker: marker("triangle", 9, "#77933C"),
  },
  {
    label: "DO (hand)", data: pts(doHand),
    pointStyle: "circle", pointRadius: 10, pointBackgroundColor: "#FFC000",
    pointBorderColor: "#E46C0A", pointBorderWidth: 2.5,
    legendMarker: marker("circle", 8, "#FFC000", "#E46C0A", 1.5),
  },
];
// first series at the bottom of the stack, like the original
datasets.forEach((ds, i) => { ds.order = datasets.length - i; });

const sideLegend = {
  id: "sideLegend",
  afterDraw(chart) {
    const ctx = chart.ctx;
    ctx.save();
    ctx.font = "24px " + FONT;
    ctx.textBaseline = "middle";
    ctx.textAlign = "left";
    chart.data.datasets.forEach((ds, i) => {
      const y = 541 + i * 48.2;
      const m = ds.legendMarker;
      ctx.fillStyle = m.fill;
      ctx.strokeStyle = m.border;
      ctx.lineWidth = m.borderWidth;
      Chart.helpers.drawPoint(ctx, { pointStyle: m.style, radius: m.radius, rotation: 0, borderWidth: m.borderWidth }, 1404, y);
      ctx.fillStyle = "#000000";
      ctx.fillText(ds.label, 1419, y);
    });
    ctx.strokeStyle = "#9a9a9a";
    ctx.lineWidth = 3;
    ctx.beginPath();
    ctx.moveTo(1802, 0);
    ctx.lineTo(1802, 1287);
    ctx.stroke();
    ctx.restore();
  },
};

const isMajor = (v, step) => Math.abs(v / step - Math.round(v / step)) < 1e-6;

new Chart(document.getElementById("chart"), {
  type: "scatter",
  data: { datasets },
  options: {
    responsive: false,
    animation: false,
    devicePixelRatio: 1,
    layout: { padding: { top: 18, right: 478, bottom: 0, left: 0 } },
    plugins: { legend: { display: false }, tooltip: { enabled: false } },
    scales: {
      x: {
        type: "linear", min: 0, max: 8,
        afterFit: (s) => { s.height = 99; },
        ticks: {
          stepSize: 0.5, autoSkip: false, maxRotation: 0, padding: 10,
          color: "#000000", font: { family: FONT, size: 24 },
          callback: (v) => (isMajor(v, 2) ? xTickLabels[Math.round(v / 2)] : ""),
        },
        grid: {
          color: (c) => (isMajor(c.tick.value, 2) ? "#9a9a9a" : "#cfcfcf"),
          lineWidth: 1.5, tickLength: 9,
          tickColor: (c) => (isMajor(c.tick.value, 2) ? "#9a9a9a" : "rgba(0,0,0,0)"),
        },
        border: { display: true, color: "#8c8c8c", width: 1.5 },
        title: {
          display: true, text: "Date/Time (Eastern Local)", color: "#000000",
          font: { family: FONT, size: 30, weight: "bold" }, padding: { top: 0, bottom: 2 },
        },
      },
      y: {
        min: -10, max: 40,
        afterFit: (s) => { s.width = 115; s.paddingTop = 0; s.paddingBottom = 0; },
        ticks: {
          stepSize: 1, autoSkip: false, padding: 15,
          color: "#000000", font: { family: FONT, size: 24 },
          callback: (v) => (isMajor(v, 5) ? String(v) : ""),
        },
        grid: {
          color: (c) => (isMajor(c.tick.value, 5) ? "#9a9a9a" : "#d2d2d2"),
          lineWidth: 1.5, tickLength: 9,
          tickColor: (c) => (isMajor(c.tick.value, 5) ? "#9a9a9a" : "rgba(0,0,0,0)"),
        },
        border: { display: true, color: "#8c8c8c", width: 1.5 },
        title: {
          display: true, text: "As Appropriate", color: "#000000",
          font: { family: FONT, size: 30, weight: "bold" }, padding: { top: 8, bottom: 0 },
        },
      },
    },
  },
  plugins: [sideLegend],
});
</script>
</body>
</html>
